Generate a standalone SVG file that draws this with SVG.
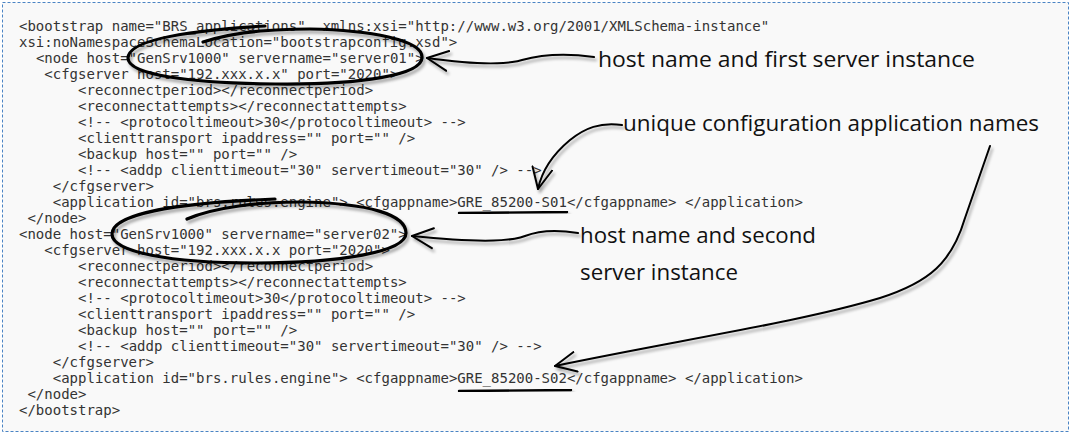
<svg xmlns="http://www.w3.org/2000/svg" width="1072" height="435" viewBox="0 0 1072 435">
<defs>
<style>
.code{font-family:"DejaVu Sans Mono","Liberation Mono",monospace;font-size:14px;fill:#333;white-space:pre;}
.note{font-family:"Open Sans","Noto Sans",sans-serif;font-size:21px;fill:#111;}
.ink{fill:none;stroke:#000;stroke-linecap:round;stroke-linejoin:round;}
.loop{stroke-width:3.2;}
.arrow{stroke-width:2;}
.uline{stroke-width:2.4;}
</style>
<filter id="shadow" x="-10%" y="-30%" width="120%" height="160%">
<feDropShadow dx="2" dy="3" stdDeviation="1.4" flood-color="#000" flood-opacity="0.35"/>
</filter>
<marker id="chev" viewBox="0 0 24 24" refX="22" refY="12" markerWidth="24" markerHeight="24" markerUnits="userSpaceOnUse" orient="auto">
<path d="M1,2 L22,12 L1,22" fill="none" stroke="#000" stroke-width="2" stroke-linecap="round" stroke-linejoin="round"/>
</marker>
</defs>
<rect x="0" y="0" width="1072" height="435" fill="#fff"/>
<rect x="2.5" y="2.5" width="1066" height="429" fill="#f9f9f9" stroke="#4a84c4" stroke-width="1" stroke-dasharray="3,2"/>
<g id="code">
<text class="code" x="19" y="31">&lt;bootstrap name="BRS_applications" &#160;xmlns:xsi="http://www.w3.org/2001/XMLSchema-instance"</text>
<text class="code" x="19" y="47">xsi:noNamespaceSchemaLocation="bootstrapconfig.xsd"&gt;</text>
<text class="code" x="35.88" y="63">&lt;node host="GenSrv1000" servername="server01"&gt;</text>
<text class="code" x="44.32" y="79">&lt;cfgserver host="192.xxx.x.x" port="2020"&gt;</text>
<text class="code" x="78.08" y="95">&lt;reconnectperiod&gt;&lt;/reconnectperiod&gt;</text>
<text class="code" x="78.08" y="111">&lt;reconnectattempts&gt;&lt;/reconnectattempts&gt;</text>
<text class="code" x="78.08" y="127">&lt;!-- &lt;protocoltimeout&gt;30&lt;/protocoltimeout&gt; --&gt;</text>
<text class="code" x="78.08" y="143">&lt;clienttransport ipaddress="" port="" /&gt;</text>
<text class="code" x="78.08" y="159">&lt;backup host="" port="" /&gt;</text>
<text class="code" x="78.08" y="175">&lt;!-- &lt;addp clienttimeout="30" servertimeout="30" /&gt; --&gt;</text>
<text class="code" x="52.76" y="191">&lt;/cfgserver&gt;</text>
<text class="code" x="52.76" y="207">&lt;application id="brs.rules.engine"&gt; &lt;cfgappname&gt;GRE_85200-S01&lt;/cfgappname&gt; &lt;/application&gt;</text>
<text class="code" x="27.44" y="223">&lt;/node&gt;</text>
<text class="code" x="19" y="239">&lt;node host="GenSrv1000" servername="server02"&gt;</text>
<text class="code" x="44.32" y="255">&lt;cfgserver host="192.xxx.x.x port="2020"&gt;</text>
<text class="code" x="78.08" y="271">&lt;reconnectperiod&gt;&lt;/reconnectperiod&gt;</text>
<text class="code" x="78.08" y="287">&lt;reconnectattempts&gt;&lt;/reconnectattempts&gt;</text>
<text class="code" x="78.08" y="303">&lt;!-- &lt;protocoltimeout&gt;30&lt;/protocoltimeout&gt; --&gt;</text>
<text class="code" x="78.08" y="319">&lt;clienttransport ipaddress="" port="" /&gt;</text>
<text class="code" x="78.08" y="335">&lt;backup host="" port="" /&gt;</text>
<text class="code" x="78.08" y="351">&lt;!-- &lt;addp clienttimeout="30" servertimeout="30" /&gt; --&gt;</text>
<text class="code" x="52.76" y="367">&lt;/cfgserver&gt;</text>
<text class="code" x="52.76" y="383">&lt;application id="brs.rules.engine"&gt; &lt;cfgappname&gt;GRE_85200-S02&lt;/cfgappname&gt; &lt;/application&gt;</text>
<text class="code" x="27.44" y="399">&lt;/node&gt;</text>
<text class="code" x="19" y="415">&lt;/bootstrap&gt;</text>
</g>
<g id="mark-server01" filter="url(#shadow)">
<path class="ink loop" d="M203,42 C230,33 270,29 310,29 C370,30 422,40 422,57 C423,75 360,85 275,84 C190,83 128,75 128,58 C128,41 180,31 265,26"/>
</g>
<g id="mark-server02" filter="url(#shadow)">
<path class="ink loop" d="M187,219 C215,207 260,202 300,202 C370,203 406,215 406,233 C406,252 340,263 255,263 C170,263 112,252 112,234 C112,215 170,203 275,199"/>
</g>
<g id="mark-s01" filter="url(#shadow)">
<path class="ink uline" d="M459,213 L567,212"/>
</g>
<g id="mark-s02" filter="url(#shadow)">
<path class="ink uline" d="M459,391 L571,390"/>
</g>
<g id="note-first">
<text class="note" x="598" y="66.5" textLength="377" lengthAdjust="spacingAndGlyphs">host name and first server instance</text>
</g>
<g id="note-unique">
<text class="note" x="623" y="130.5" textLength="416" lengthAdjust="spacingAndGlyphs">unique configuration application names</text>
</g>
<g id="note-second">
<text class="note" x="580" y="243" textLength="236" lengthAdjust="spacingAndGlyphs">host name and second</text>
<text class="note" x="580" y="280" textLength="158" lengthAdjust="spacingAndGlyphs">server instance</text>
</g>
<g id="connectors" filter="url(#shadow)">
<path class="ink arrow" marker-end="url(#chev)" d="M594,57 C565,53 540,55 522,60 C505,65 470,64 427,58"/>
<path class="ink arrow" marker-end="url(#chev)" d="M622,125 C600,122 585,128 570,140 C552,155 542,170 538,189"/>
<path class="ink arrow" marker-end="url(#chev)" d="M990,146 L965,218 C952,262 930,282 880,298 C800,322 680,340 555,366"/>
<path class="ink arrow" marker-end="url(#chev)" d="M578,233 C560,230 540,230 525,236 C510,242 470,242 412,236"/>
</g>
</svg>
